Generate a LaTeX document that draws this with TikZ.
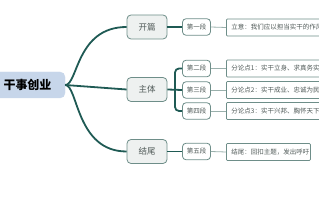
\documentclass[tikz,border=0pt]{standalone}
\usepackage{fontspec}
\setmainfont{Noto Sans CJK SC}
\definecolor{darkteal}{HTML}{1F5A54}
\definecolor{boxline}{HTML}{6E8E89}
\definecolor{thinline}{HTML}{9AB0AC}
\definecolor{lightfill}{HTML}{EEF1F0}
\definecolor{rootfill}{HTML}{C7D6EA}
\definecolor{txt}{HTML}{505A58}
\begin{document}
\begin{tikzpicture}[x=1pt,y=-1pt,
  rootbox/.style={draw=rootfill,fill=rootfill,rounded corners=5pt,minimum width=75pt,minimum height=26pt,inner sep=0pt,font=\bfseries\fontsize{12}{12}\selectfont,text=black},
  mainbox/.style={draw=boxline,fill=lightfill,line width=0.8pt,rounded corners=4pt,minimum width=40pt,minimum height=24pt,inner sep=0pt,font=\fontsize{8.5}{8.5}\selectfont,text=txt},
  segbox/.style={draw=boxline,fill=white,line width=0.8pt,rounded corners=3.5pt,minimum width=28pt,minimum height=16.5pt,inner sep=0pt,font=\fontsize{6.5}{6.5}\selectfont,text=txt},
  detbox/.style={draw=boxline,fill=white,line width=0.8pt,rounded corners=1pt,minimum height=17pt,inner sep=0pt,font=\fontsize{6.5}{6.5}\selectfont,text=txt,anchor=west,text width=110pt,align=left,inner xsep=5pt},
  thick link/.style={draw=darkteal,line width=1.8pt},
  thin link/.style={draw=thinline,line width=0.8pt}]
\useasboundingbox (0,0) rectangle (319,200);
\clip (0,0) rectangle (319,200);
\node[rootbox] (root) at (27.5,85) {干事创业};
\node[mainbox] (kp) at (147,27) {开篇};
\node[mainbox] (zt) at (147,89.5) {主体};
\node[mainbox] (jw) at (147,151.5) {结尾};
\node[segbox] (d1) at (196.5,27) {第一段};
\node[segbox] (d2) at (196.5,68.5) {第二段};
\node[segbox] (d3) at (196.5,90) {第三段};
\node[segbox] (d4) at (196.5,111) {第四段};
\node[segbox] (d5) at (196.5,151.5) {第五段};
\node[detbox] (t1) at (226,27.5) {立意：我们应以担当实干的作风};
\node[detbox] (t2) at (226,68.5) {分论点1：实干立身、求真务实};
\node[detbox] (t3) at (226,90) {分论点2：实干成业、忠诚为民};
\node[detbox] (t4) at (226,111) {分论点3：实干兴邦、胸怀天下};
\node[detbox,text width=74pt] (t5) at (226,152) {结尾：回扣主题，发出呼吁};
% main curves
\draw[thick link] (root.east) .. controls (78,85) and (76,27) .. (kp.west);
\draw[thick link] (root.east) .. controls (78,85) and (76,151.5) .. (jw.west);
\draw[thick link] (root.east) -- (zt.west);
% segment links
\draw[thick link] (kp.east) -- (d1.west);
\draw[thick link] (jw.east) -- (d5.west);
\coordinate (br) at (175,89.5);
\draw[thick link] (zt.east) -- (d3.west);
\draw[thick link,rounded corners=4pt] (br) |- (d2.west);
\draw[thick link,rounded corners=4pt] (br) |- (d4.west);
% detail links
\draw[thin link] (d1.east) -- (t1.west);
\draw[thin link] (d2.east) -- (t2.west);
\draw[thin link] (d3.east) -- (t3.west);
\draw[thin link] (d4.east) -- (t4.west);
\draw[thin link] (d5.east) -- (t5.west);
\end{tikzpicture}
\end{document}
